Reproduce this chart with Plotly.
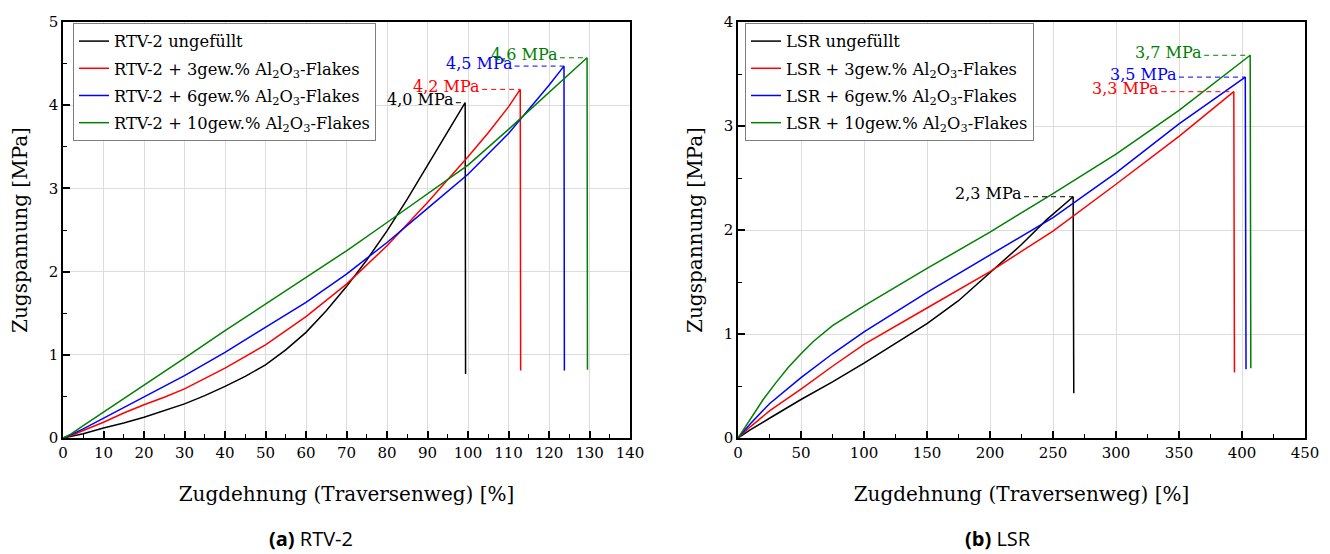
import plotly.graph_objects as go

# ---------------- RTV-2 (left panel) ----------------
rtv_x_unfilled = [0, 2, 5, 10, 15, 20, 25, 30, 35, 40, 45, 50, 55, 60, 65, 70, 75, 80, 85, 90, 95, 99.3, 99.4]
rtv_y_unfilled = [0, 0.02, 0.05, 0.12, 0.18, 0.25, 0.33, 0.41, 0.51, 0.62, 0.74, 0.88, 1.06, 1.27, 1.53, 1.82, 2.14, 2.49, 2.87, 3.27, 3.68, 4.03, 0.77]

rtv_x_3 = [0, 2, 5, 10, 15, 20, 25, 30, 40, 50, 60, 70, 80, 90, 100, 105, 110, 112.9, 113.0]
rtv_y_3 = [0, 0.03, 0.09, 0.19, 0.30, 0.40, 0.49, 0.59, 0.84, 1.12, 1.46, 1.85, 2.31, 2.83, 3.38, 3.67, 3.98, 4.19, 0.81]

rtv_x_6 = [0, 2, 5, 10, 20, 30, 40, 50, 60, 70, 80, 90, 100, 110, 120, 123.7, 123.8]
rtv_y_6 = [0, 0.04, 0.11, 0.24, 0.49, 0.75, 1.03, 1.33, 1.63, 1.97, 2.35, 2.76, 3.17, 3.66, 4.24, 4.47, 0.81]

rtv_x_10 = [0, 2, 5, 10, 20, 30, 40, 50, 60, 70, 80, 90, 100, 110, 120, 129.4, 129.5]
rtv_y_10 = [0, 0.05, 0.15, 0.31, 0.63, 0.96, 1.29, 1.61, 1.93, 2.25, 2.59, 2.93, 3.28, 3.71, 4.15, 4.57, 0.82]

# ---------------- LSR (right panel) ----------------
lsr_x_unfilled = [0, 10, 25, 50, 75, 100, 125, 150, 175, 200, 225, 245, 266, 266.5]
lsr_y_unfilled = [0, 0.08, 0.19, 0.37, 0.54, 0.72, 0.91, 1.1, 1.32, 1.59, 1.86, 2.1, 2.32, 0.43]

lsr_x_3 = [0, 10, 25, 50, 75, 100, 150, 200, 250, 300, 350, 393.5, 394]
lsr_y_3 = [0, 0.11, 0.26, 0.47, 0.69, 0.9, 1.25, 1.6, 1.99, 2.44, 2.9, 3.33, 0.63]

lsr_x_6 = [0, 10, 25, 50, 75, 100, 150, 200, 250, 300, 350, 402.6, 403.2]
lsr_y_6 = [0, 0.14, 0.33, 0.58, 0.81, 1.02, 1.4, 1.76, 2.12, 2.55, 3.02, 3.47, 0.66]

lsr_x_10 = [0, 10, 20, 30, 40, 50, 60, 75, 100, 125, 150, 200, 250, 300, 350, 406.5, 407]
lsr_y_10 = [0, 0.19, 0.37, 0.53, 0.68, 0.81, 0.93, 1.08, 1.27, 1.45, 1.63, 1.98, 2.35, 2.73, 3.15, 3.68, 0.67]

# Peak labels: (label, dashed line start x, peak x, peak y, colour)
rtv_peaks = [("4,0 MPa", 97.0, 99.3, 4.03, "black"),
             ("4,2 MPa", 103.5, 112.9, 4.19, "red"),
             ("4,5 MPa", 111.5, 123.7, 4.47, "blue"),
             ("4,6 MPa", 122.7, 129.4, 4.57, "green")]
lsr_peaks = [("2,3 MPa", 227, 266, 2.32, "black"),
             ("3,3 MPa", 336, 393.5, 3.33, "red"),
             ("3,5 MPa", 350, 402.6, 3.47, "blue"),
             ("3,7 MPa", 370, 406.5, 3.68, "green")]

colors = ["black", "red", "blue", "green"]
rtv_names = ["RTV-2 ungefüllt",
             "RTV-2 + 3gew.% Al<sub>2</sub>O<sub>3</sub>-Flakes",
             "RTV-2 + 6gew.% Al<sub>2</sub>O<sub>3</sub>-Flakes",
             "RTV-2 + 10gew.% Al<sub>2</sub>O<sub>3</sub>-Flakes"]
lsr_names = ["LSR ungefüllt",
             "LSR + 3gew.% Al<sub>2</sub>O<sub>3</sub>-Flakes",
             "LSR + 6gew.% Al<sub>2</sub>O<sub>3</sub>-Flakes",
             "LSR + 10gew.% Al<sub>2</sub>O<sub>3</sub>-Flakes"]

SERIF = "DejaVu Serif"
W, H = 1330, 554
TICK_SIZE = 15
TITLE_SIZE = 20
LEGEND_SIZE = 16.3
LABEL_SIZE = 16

fig = go.Figure()

rtv_series = [(rtv_x_unfilled, rtv_y_unfilled), (rtv_x_3, rtv_y_3),
              (rtv_x_6, rtv_y_6), (rtv_x_10, rtv_y_10)]
lsr_series = [(lsr_x_unfilled, lsr_y_unfilled), (lsr_x_3, lsr_y_3),
              (lsr_x_6, lsr_y_6), (lsr_x_10, lsr_y_10)]

for i, ((xs, ys), name, c) in enumerate(zip(rtv_series, rtv_names, colors)):
    fig.add_trace(go.Scatter(x=xs, y=ys, mode="lines", name=name,
                             line=dict(color=c, width=1.5), legendgroup=f"rtv{i}",
                             xaxis="x", yaxis="y", legend="legend"))
for i, ((xs, ys), name, c) in enumerate(zip(lsr_series, lsr_names, colors)):
    fig.add_trace(go.Scatter(x=xs, y=ys, mode="lines", name=name,
                             line=dict(color=c, width=1.5), legendgroup=f"lsr{i}",
                             xaxis="x2", yaxis="y2", legend="legend2"))

annotations = []
for peaks, xa, ya in [(rtv_peaks, "x", "y"), (lsr_peaks, "x2", "y2")]:
    for label, x0, xp, yp, c in peaks:
        fig.add_trace(go.Scatter(x=[x0, xp], y=[yp, yp], mode="lines",
                                 line=dict(color=c, width=1, dash="5px,4px"),
                                 showlegend=False, hoverinfo="skip",
                                 xaxis=xa, yaxis=ya))
        annotations.append(dict(x=x0, y=yp, xref=xa, yref=ya, text=label,
                                showarrow=False, xanchor="right", yanchor="middle",
                                yshift=3, font=dict(family=SERIF, size=LABEL_SIZE, color=c)))

# Panel captions
annotations.append(dict(x=311 / W, y=1 - 538 / H, xref="paper", yref="paper",
                        xanchor="center", yanchor="middle",
                        text="<b>(a)</b> RTV-2", showarrow=False,
                        font=dict(family="Open Sans", size=20, color="black")))
annotations.append(dict(x=998 / W, y=1 - 538 / H, xref="paper", yref="paper",
                        xanchor="center", yanchor="middle",
                        text="<b>(b)</b> LSR", showarrow=False,
                        font=dict(family="Open Sans", size=20, color="black")))

axis_common = dict(showline=True, linecolor="black", linewidth=1.5, mirror=True,
                   ticks="inside", ticklen=7, tickwidth=1.5, tickcolor="black",
                   showgrid=True, gridcolor="#dcdcdc", gridwidth=1, zeroline=False,
                   automargin=False,
                   tickfont=dict(family=SERIF, size=TICK_SIZE, color="black"))
minor_common = dict(ticks="inside", ticklen=4, tickwidth=1.2, tickcolor="black", showgrid=False)
title_font = dict(family=SERIF, size=TITLE_SIZE, color="black")

ydom = [1 - 438 / H, 1 - 22 / H]

fig.update_layout(
    template="none",
    width=W, height=H, margin=dict(l=0, r=0, t=0, b=0, autoexpand=False),
    paper_bgcolor="white", plot_bgcolor="white",
    font=dict(family=SERIF, color="black"),
    xaxis=dict(axis_common, domain=[63 / W, 630 / W], range=[0, 140], dtick=10,
               minor=dict(minor_common, dtick=5),
               title=dict(text="Zugdehnung (Traversenweg) [%]", font=title_font, standoff=26),
               anchor="y"),
    yaxis=dict(axis_common, domain=ydom, range=[0, 5], dtick=1,
               minor=dict(minor_common, dtick=0.5),
               title=dict(text="Zugspannung [MPa]", font=title_font, standoff=16),
               anchor="x"),
    xaxis2=dict(axis_common, domain=[738 / W, 1305 / W], range=[0, 450], dtick=50,
                minor=dict(minor_common, dtick=25),
                title=dict(text="Zugdehnung (Traversenweg) [%]", font=title_font, standoff=26),
                anchor="y2"),
    yaxis2=dict(axis_common, domain=ydom, range=[0, 4], dtick=1,
                minor=dict(minor_common, dtick=0.5),
                title=dict(text="Zugspannung [MPa]", font=title_font, standoff=16),
                anchor="x2"),
    legend=dict(x=73 / W, y=1 - 23 / H, xanchor="left", yanchor="top",
                bgcolor="white", bordercolor="#7f7f7f", borderwidth=1,
                font=dict(family=SERIF, size=LEGEND_SIZE, color="black"),
                tracegroupgap=3),
    legend2=dict(x=745 / W, y=1 - 23 / H, xanchor="left", yanchor="top",
                 bgcolor="white", bordercolor="#7f7f7f", borderwidth=1,
                 font=dict(family=SERIF, size=LEGEND_SIZE, color="black"),
                 tracegroupgap=3),
    annotations=annotations,
    showlegend=True,
)

fig.write_html("out.html")
